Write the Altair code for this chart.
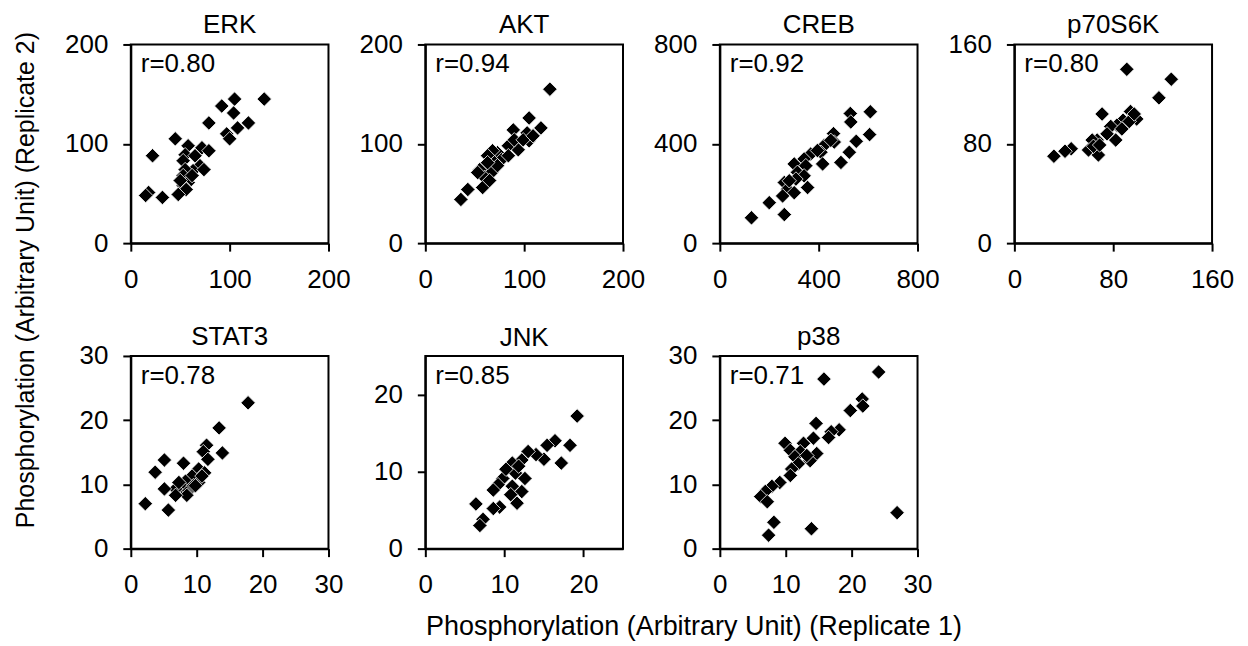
import altair as alt
import pandas as pd

FONT = "Liberation Sans"

panel_names = ["ERK", "AKT", "CREB", "p70S6K", "STAT3", "JNK", "p38"]
r_labels = ["r=0.80", "r=0.94", "r=0.92", "r=0.80", "r=0.78", "r=0.85", "r=0.71"]
axis_max = [200, 200, 800, 160, 30, 25, 30]
tick_values = [[0, 100, 200], [0, 100, 200], [0, 400, 800], [0, 80, 160],
               [0, 10, 20, 30], [0, 10, 20], [0, 10, 20, 30]]

erk_x = [135, 105, 92, 104, 119, 108, 79, 97, 100, 45, 22, 58, 72, 79, 55, 65, 53, 70, 63, 74, 55, 53, 58, 53, 56, 48, 32, 18, 15, 62, 50]
erk_y = [145, 145, 138, 131, 121, 116, 121, 110, 105, 105, 88, 98, 96, 93, 89, 88, 83, 78, 73, 74, 74, 68, 61, 58, 54, 49, 46, 51, 48, 68, 63]

akt_x = [126, 117, 105, 103, 105, 89, 94, 84, 73, 68, 63, 77, 70, 60, 55, 67, 60, 53, 58, 43, 36, 84, 90, 99, 109, 65, 73, 63]
akt_y = [155, 116, 126, 111, 103, 114, 94, 98, 91, 93, 88, 84, 81, 78, 74, 71, 66, 71, 56, 54, 44, 88, 104, 104, 108, 63, 78, 81]

creb_x = [609, 528, 530, 606, 552, 524, 490, 460, 463, 422, 409, 416, 368, 341, 301, 348, 314, 341, 355, 308, 261, 274, 301, 254, 200, 261, 128, 449, 395, 281]
creb_y = [529, 522, 488, 437, 410, 366, 325, 441, 407, 393, 366, 319, 359, 339, 319, 312, 285, 271, 224, 258, 244, 217, 203, 190, 163, 115, 102, 414, 373, 251]

p70_x = [91, 127, 117, 71, 94, 99, 88, 83, 78, 82, 75, 67, 63, 60, 68, 46, 41, 32, 87, 93, 97, 64, 69]
p70_y = [140, 132, 117, 104, 106, 100, 99, 95, 94, 83, 88, 83, 83, 75, 71, 76, 74, 70, 92, 98, 104, 78, 79]

stat3_x = [17.8, 13.4, 13.9, 11.5, 11.0, 11.7, 10.3, 11.2, 9.3, 8.3, 10.3, 7.8, 8.8, 6.8, 8.5, 8.0, 5.1, 3.7, 5.1, 2.2, 5.7, 6.8, 9.5, 7.3, 10.8, 9.8]
stat3_y = [22.7, 18.8, 14.9, 16.1, 15.1, 13.9, 12.4, 11.8, 11.3, 10.5, 10.3, 9.6, 9.0, 9.3, 8.3, 13.3, 13.8, 11.9, 9.3, 7.0, 6.0, 8.3, 9.8, 10.3, 11.3, 9.8]

jnk_x = [19.2, 18.3, 17.2, 16.4, 15.4, 15.0, 14.0, 13.0, 12.2, 11.0, 11.4, 12.6, 9.8, 9.2, 8.6, 11.0, 12.2, 10.8, 11.6, 9.4, 8.6, 6.4, 7.3, 6.9, 11.8, 10.2]
jnk_y = [17.2, 13.4, 11.1, 14.0, 13.4, 11.6, 12.2, 12.6, 11.5, 11.1, 9.8, 9.1, 9.1, 8.3, 7.6, 8.1, 7.4, 7.0, 5.9, 5.4, 5.2, 5.8, 3.8, 3.0, 10.7, 10.3]

p38_x = [24.1, 15.8, 21.6, 21.7, 19.8, 18.1, 16.9, 16.5, 14.6, 14.2, 12.7, 9.9, 10.7, 12.2, 14.7, 11.4, 13.7, 11.9, 10.9, 10.7, 9.1, 7.9, 6.9, 6.2, 7.2, 8.2, 7.4, 13.9, 26.9, 13.2]
p38_y = [27.5, 26.4, 23.3, 22.2, 21.5, 18.5, 18.2, 17.3, 19.5, 17.2, 16.4, 16.4, 15.3, 15.1, 14.8, 14.3, 13.7, 13.2, 12.4, 11.4, 10.3, 9.7, 8.9, 8.1, 7.3, 4.1, 2.1, 3.1, 5.6, 14.5]

xs_all = [erk_x, akt_x, creb_x, p70_x, stat3_x, jnk_x, p38_x]
ys_all = [erk_y, akt_y, creb_y, p70_y, stat3_y, jnk_y, p38_y]

x_title = "Phosphorylation (Arbitrary Unit) (Replicate 1)"
y_title = "Phosphorylation (Arbitrary Unit) (Replicate 2)"

PANEL_W = 198
ROW_H = [199, 193]


def make_panel(i):
    df = pd.DataFrame({"x": xs_all[i], "y": ys_all[i]})
    dom = [0, axis_max[i]]
    pts = alt.Chart(df).mark_point(
        shape="diamond", filled=True, size=210, fill="black",
        stroke="white", strokeWidth=0.8, opacity=1
    ).encode(
        x=alt.X("x:Q", scale=alt.Scale(domain=dom, nice=False),
                axis=alt.Axis(values=tick_values[i], title=None)),
        y=alt.Y("y:Q", scale=alt.Scale(domain=dom, nice=False),
                axis=alt.Axis(values=tick_values[i], title=None)),
    )
    txt = alt.Chart(pd.DataFrame({"t": [r_labels[i]]})).mark_text(
        align="left", baseline="middle", font=FONT, fontSize=26, color="black"
    ).encode(x=alt.value(10), y=alt.value(20), text="t:N")
    h = ROW_H[0] if i < 4 else ROW_H[1]
    # the top tick label sits above the frame only when the last tick is at the top
    has_top_label = tick_values[i][-1] == axis_max[i]
    return alt.layer(pts, txt).properties(
        width=PANEL_W, height=h,
        title=alt.TitleParams(panel_names[i], font=FONT, fontSize=26,
                              fontWeight="normal", color="black",
                              anchor="middle", frame="group",
                              offset=-7 if has_top_label else 5),
    )


panels = [make_panel(i) for i in range(len(panel_names))]

grid = alt.concat(
    *panels, columns=4, spacing={"row": 113, "column": 97}, bounds="flush",
    title=alt.TitleParams(x_title, orient="bottom", font=FONT, fontSize=27,
                          fontWeight="normal", color="black", anchor="middle",
                          offset=16, dx=45),
)

chart = alt.vconcat(
    grid,
    title=alt.TitleParams(y_title, orient="left", font=FONT, fontSize=25,
                          fontWeight="normal", color="black", anchor="middle",
                          offset=25, dx=46),
).properties(
    padding={"left": 5, "top": 3, "right": 5, "bottom": 0}
).configure_axis(
    domainColor="black", domainWidth=2, tickColor="black", tickWidth=2,
    tickSize=8, labelFont=FONT, labelFontSize=26, labelColor="black",
    labelPadding=15, grid=False, labelFlush=False, labelOverlap=False,
).configure_view(
    stroke="black", strokeWidth=2
)

chart.save("out.html", embed_options={"renderer": "svg", "actions": False})
